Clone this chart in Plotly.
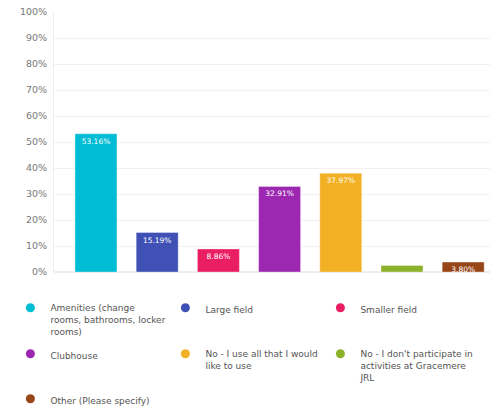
import plotly.graph_objects as go

categories = [
    "Amenities (change<br>rooms, bathrooms, locker<br>rooms)",
    "Large field",
    "Smaller field",
    "Clubhouse",
    "No - I use all that I would<br>like to use",
    "No - I don't participate in<br>activities at Gracemere<br>JRL",
    "Other (Please specify)",
]
values = [53.16, 15.19, 8.86, 32.91, 37.97, 2.53, 3.80]
labels = ["53.16%", "15.19%", "8.86%", "32.91%", "37.97%", "", "3.80%"]
colors = ["#00BCD4", "#3F51B5", "#E91E63", "#9C27B0", "#F2B024", "#8BB22A", "#974618"]
legend_rows = ["legend", "legend", "legend", "legend2", "legend2", "legend2", "legend3"]
yticks = [0, 10, 20, 30, 40, 50, 60, 70, 80, 90, 100]
ytick_text = [f"{t}%" for t in yticks]

fig = go.Figure()
for i, (c, v, lab, col) in enumerate(zip(categories, values, labels, colors)):
    fig.add_trace(go.Bar(
        x=[i], y=[v], name=c, width=0.686, showlegend=False,
        marker=dict(color=col, line=dict(color="rgba(255,255,255,0.35)", width=1)),
        text=[lab], textposition="inside", insidetextanchor="end",
        textfont=dict(color="white", size=7.5, family="DejaVu Sans"),
        textangle=0, cliponaxis=False,
        hoverinfo="skip",
    ))
for c, col, lg in zip(categories, colors, legend_rows):
    fig.add_trace(go.Scatter(
        x=[None], y=[None], mode="markers", name=c, legend=lg,
        marker=dict(color=col, size=9, symbol="circle"),
        showlegend=True, hoverinfo="skip",
    ))

leg_common = dict(orientation="h", xanchor="left", yanchor="top",
                  entrywidth=110, entrywidthmode="pixels", valign="top",
                  itemwidth=30, bgcolor="rgba(0,0,0,0)",
                  font=dict(size=9, color="#555", family="DejaVu Sans"),
                  tracegroupgap=0, traceorder="normal")

fig.update_layout(
    width=490, height=406,
    margin=dict(l=54, r=0, t=12, b=134),
    paper_bgcolor="white", plot_bgcolor="white",
    font=dict(family="DejaVu Sans", size=9, color="#555"),
    uniformtext=dict(minsize=7, mode="show"),
    xaxis=dict(range=[-0.686, 6.438], showticklabels=False, showgrid=False,
               zeroline=False, showline=False, fixedrange=True),
    yaxis=dict(range=[0, 100], tickvals=yticks, ticktext=ytick_text,
               showgrid=True, gridcolor="#f1f1f1", gridwidth=1,
               zeroline=True, zerolinecolor="#eeeeee",
               showline=True, linecolor="#eeeeee", linewidth=1,
               tickfont=dict(size=9.5, color="#777"), ticks="", ticklabelstandoff=4),
    showlegend=True,
    legend=dict(x=-0.1, y=-0.09, **leg_common),
    legend2=dict(x=-0.1, y=-0.267, **leg_common),
    legend3=dict(xref="container", yref="container", x=0.0212, y=0.0483, **leg_common),
)

fig.write_html("out.html")
